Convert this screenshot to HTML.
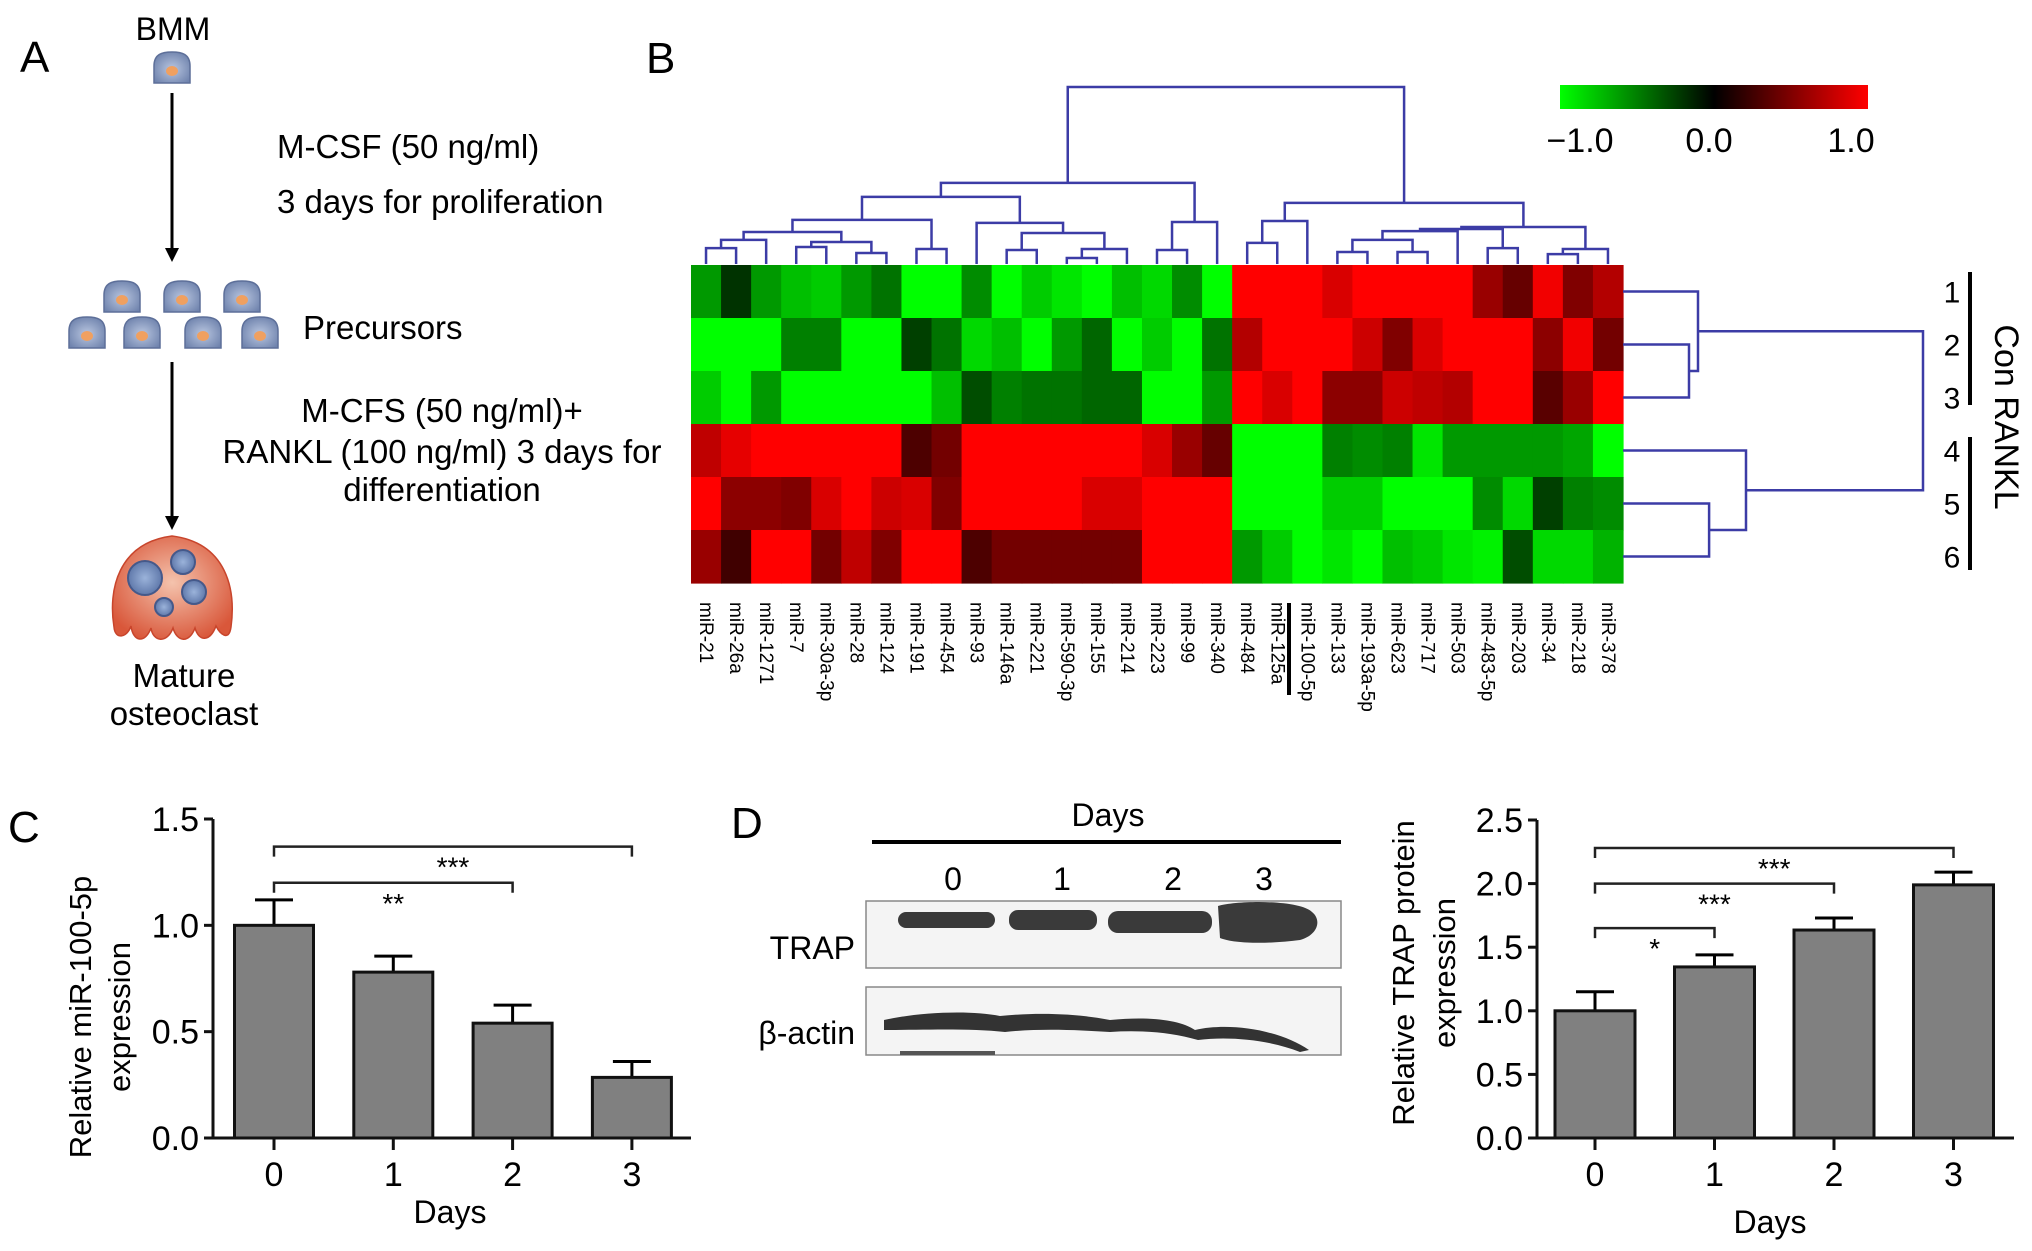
<!DOCTYPE html>
<html><head><meta charset="utf-8"><style>
html,body{margin:0;padding:0;background:#fff;}
svg{display:block;font-family:"Liberation Sans",Arial,sans-serif;}
</style></head><body>
<svg id="fig" width="2032" height="1251" viewBox="0 0 2032 1251" xmlns="http://www.w3.org/2000/svg">
<defs>
<radialGradient id="cellG" cx="50%" cy="55%" r="60%"><stop offset="0" stop-color="#b9c6e0"/><stop offset="1" stop-color="#6f83ad"/></radialGradient>
<radialGradient id="ostG" cx="50%" cy="45%" r="60%"><stop offset="0" stop-color="#f4c3ad"/><stop offset="1" stop-color="#d9573a"/></radialGradient>
<radialGradient id="nucG" cx="50%" cy="50%" r="55%"><stop offset="0" stop-color="#9bb3da"/><stop offset="1" stop-color="#5a73a6"/></radialGradient>
<linearGradient id="cbar" x1="0" x2="1" y1="0" y2="0"><stop offset="0" stop-color="#00ff00"/><stop offset="0.5" stop-color="#000"/><stop offset="1" stop-color="#ff0000"/></linearGradient>
</defs>

<!-- Panel A -->
<g>
<text x="20" y="72" font-size="44">A</text>
<text x="173" y="40" font-size="32" text-anchor="middle">BMM</text>
<g id="cells"></g>
<line x1="172" y1="93" x2="172" y2="250" stroke="#000" stroke-width="3"/>
<polygon points="165,248 179,248 172,262" fill="#000"/>
<text x="277" y="158" font-size="33">M-CSF (50 ng/ml)</text>
<text x="277" y="213" font-size="33">3 days for proliferation</text>
<text x="303" y="339" font-size="33">Precursors</text>
<line x1="172" y1="362" x2="172" y2="518" stroke="#000" stroke-width="3"/>
<polygon points="165,516 179,516 172,530" fill="#000"/>
<text x="442" y="422" font-size="33" text-anchor="middle">M-CFS (50 ng/ml)+</text>
<text x="442" y="463" font-size="33" text-anchor="middle">RANKL (100 ng/ml) 3 days for</text>
<text x="442" y="501" font-size="33" text-anchor="middle">differentiation</text>
<g>
<path d="M114,627 C108,590 118,543 172,536 C227,543 236,590 231,627 C229,642 220,634 216,626 C210,642 199,642 195,628 C189,644 177,642 173,628 C167,644 153,642 151,628 C145,644 133,642 131,626 C127,638 115,640 114,627 Z" fill="url(#ostG)" stroke="#c8452c" stroke-width="1.5"/>
<circle cx="145" cy="578" r="17" fill="url(#nucG)" stroke="#45598a" stroke-width="2"/>
<circle cx="183" cy="562" r="12" fill="url(#nucG)" stroke="#45598a" stroke-width="2"/>
<circle cx="194" cy="592" r="12" fill="url(#nucG)" stroke="#45598a" stroke-width="2"/>
<circle cx="164" cy="607" r="9" fill="url(#nucG)" stroke="#45598a" stroke-width="2"/>
</g>
<text x="184" y="687" font-size="33" text-anchor="middle">Mature</text>
<text x="184" y="725" font-size="33" text-anchor="middle">osteoclast</text>
</g>

<!-- Panel B -->
<g>
<text x="646" y="73" font-size="44">B</text>
<rect x="1560" y="85" width="308" height="24" fill="url(#cbar)"/>
<text x="1580" y="152" font-size="34" text-anchor="middle">−1.0</text>
<text x="1709" y="152" font-size="34" text-anchor="middle">0.0</text>
<text x="1851" y="152" font-size="34" text-anchor="middle">1.0</text>
<g id="heat"></g>
<g id="coldendro"></g>
<g id="rowdendro"></g>
<g id="collabels"></g>
<g id="rowlabels"></g>
<line x1="1289" y1="603" x2="1289" y2="695" stroke="#000" stroke-width="4"/>
<line x1="1970" y1="272" x2="1970" y2="405" stroke="#000" stroke-width="4"/>
<line x1="1970" y1="437" x2="1970" y2="570" stroke="#000" stroke-width="4"/>
<text transform="translate(1995,417) rotate(90)" font-size="34" text-anchor="middle">Con RANKL</text>
</g>

<!-- Panel C -->
<g>
<text x="8" y="842" font-size="44">C</text>
<g id="chartC"></g>
<text transform="translate(91,1017) rotate(-90)" font-size="31" text-anchor="middle">Relative miR-100-5p</text>
<text transform="translate(130,1017) rotate(-90)" font-size="31" text-anchor="middle">expression</text>
<text x="450" y="1223" font-size="32" text-anchor="middle">Days</text>
</g>

<!-- Panel D blot -->
<g>
<text x="731" y="838" font-size="44">D</text>
<text x="1108" y="826" font-size="32" text-anchor="middle">Days</text>
<line x1="872" y1="842" x2="1341" y2="842" stroke="#000" stroke-width="4"/>
<text x="953" y="890" font-size="32" text-anchor="middle">0</text>
<text x="1062" y="890" font-size="32" text-anchor="middle">1</text>
<text x="1173" y="890" font-size="32" text-anchor="middle">2</text>
<text x="1264" y="890" font-size="32" text-anchor="middle">3</text>
<text x="855" y="959" font-size="32" text-anchor="end">TRAP</text>
<text x="855" y="1044" font-size="32" text-anchor="end">β-actin</text>
<rect x="866" y="901" width="475" height="67" fill="#f4f4f4" stroke="#888" stroke-width="1.5"/>
<rect x="866" y="987" width="475" height="68" fill="#f4f4f4" stroke="#888" stroke-width="1.5"/>
<g fill="#3a3a3a">
<rect x="898" y="912" width="97" height="16" rx="8"/>
<rect x="1009" y="910" width="88" height="20" rx="9"/>
<rect x="1108" y="911" width="104" height="22" rx="10"/>
<path d="M1218,906 C1240,900 1300,900 1312,912 C1322,920 1318,935 1300,940 C1270,944 1235,944 1220,938 Z"/>
</g>
<path d="M884,1020 C920,1012 970,1010 1000,1016 C1040,1012 1080,1014 1110,1020 C1150,1016 1180,1020 1195,1030 C1230,1022 1280,1030 1309,1050 L1300,1052 C1270,1040 1230,1036 1198,1040 C1170,1032 1140,1030 1110,1032 C1080,1030 1040,1028 1005,1032 C970,1028 920,1030 884,1030 Z" fill="#333"/>
<rect x="900" y="1051" width="95" height="4" fill="#555"/>
</g>

<!-- Panel D chart -->
<g>
<g id="chartD"></g>
<text transform="translate(1414,973) rotate(-90)" font-size="31" text-anchor="middle">Relative TRAP protein</text>
<text transform="translate(1455,973) rotate(-90)" font-size="31" text-anchor="middle">expression</text>
<text x="1770" y="1233" font-size="32" text-anchor="middle">Days</text>
</g>
</svg>

<script>
const NS = "http://www.w3.org/2000/svg";
// ---------- Heatmap data ----------
const mirNames = ["miR-21","miR-26a","miR-1271","miR-7","miR-30a-3p","miR-28","miR-124","miR-191","miR-454","miR-93","miR-146a","miR-221","miR-590-3p","miR-155","miR-214","miR-223","miR-99","miR-340","miR-484","miR-125a","miR-100-5p","miR-133","miR-193a-5p","miR-623","miR-717","miR-503","miR-483-5p","miR-203","miR-34","miR-218","miR-378"];
const sampleLabels = ["1","2","3","4","5","6"];
const row1 = [-0.6,-0.2,-0.6,-0.75,-0.8,-0.6,-0.45,-1,-1,-0.55,-1,-0.8,-0.9,-1,-0.75,-0.85,-0.55,-1, 1,1,1,0.85,1,1,1,1,0.6,0.4,0.95,0.5,0.7];
const row2 = [-1,-1,-1,-0.5,-0.5,-1,-1,-0.25,-0.45,-0.85,-0.75,-1,-0.6,-0.4,-1,-0.8,-1,-0.45, 0.7,1,1,1,0.8,0.5,0.85,1,1,1,0.55,0.95,0.45];
const row3 = [-0.8,-1,-0.6,-1,-1,-1,-1,-1,-0.75,-0.3,-0.5,-0.45,-0.45,-0.4,-0.4,-1,-1,-0.6, 1,0.85,1,0.55,0.55,0.8,0.75,0.7,1,1,0.35,0.6,1];
const row4 = [0.75,0.9,1,1,1,1,1,0.3,0.45,1,1,1,1,1,1,0.85,0.6,0.4, -1,-1,-1,-0.5,-0.55,-0.5,-0.9,-0.6,-0.6,-0.6,-0.6,-0.65,-1];
const row5 = [1,0.55,0.55,0.5,0.85,1,0.8,0.85,0.5,1,1,1,1,0.85,0.85,1,1,1, -1,-1,-1,-0.8,-0.8,-1,-1,-1,-0.55,-0.85,-0.25,-0.5,-0.55];
const row6 = [0.6,0.25,1,1,0.45,0.75,0.5,1,1,0.3,0.45,0.45,0.45,0.45,0.45,1,1,1, -0.6,-0.8,-1,-0.9,-1,-0.75,-0.8,-0.9,-0.95,-0.3,-0.85,-0.85,-0.7];
const heatRows = [row1,row2,row3,row4,row5,row6];
// column dendrogram merges: [childA, childB, dissimilarity]; new node ids start at 31
const colMerges = [[0,1,.090],[31,2,.136],[3,4,.096],[5,6,.062],[33,34,.124],[32,35,.181],[7,8,.085],[36,37,.249],[10,11,.079],[12,13,.034],[40,14,.085],[39,41,.175],[9,42,.232],[38,43,.379],[15,16,.079],[45,17,.237],[44,46,.458],[18,19,.119],[48,20,.243],[21,22,.068],[23,24,.068],[50,51,.136],[52,25,.186],[26,27,.090],[53,54,.198],[28,29,.056],[56,30,.085],[55,57,.209],[49,58,.345],[47,59,1.0]];
// row dendrogram merges; new node ids start at 6
const rowMerges = [[1,2,.22],[0,6,.25],[4,5,.287],[3,8,.41],[7,9,1.0]];

const HX0=691, HX1=1623, HY0=265, HY1=583;
const nC = mirNames.length, nR = heatRows.length;
const cw=(HX1-HX0)/nC, rh=(HY1-HY0)/nR;
const colX = i => HX0 + cw*(i+0.5);
const rowY = j => HY0 + rh*(j+0.5);
function colorOf(v){ v=Math.max(-1,Math.min(1,v)); return v<0 ? `rgb(0,${Math.round(-v*255)},0)` : `rgb(${Math.round(v*255)},0,0)`; }

const heat = document.getElementById('heat');
heatRows.forEach((row,j)=>row.forEach((v,i)=>{
  const r=document.createElementNS(NS,'rect');
  r.setAttribute('x',HX0+cw*i); r.setAttribute('y',HY0+rh*j);
  r.setAttribute('width',cw+0.6); r.setAttribute('height',rh+0.6);
  r.setAttribute('fill',colorOf(v));
  
  
  heat.appendChild(r);
}));

function dendro(merges, nLeaves, leafPos, base, span, horizontal, g){
  const pos=[], lvl=[];
  for(let i=0;i<nLeaves;i++){pos.push(leafPos(i)); lvl.push(0);}
  const toC = d => horizontal ? base + d*span : base - d*span;
  let dstr='';
  merges.forEach(([a,b,d])=>{
    const ca=toC(lvl[a]), cb=toC(lvl[b]), cm=toC(d);
    if(!horizontal){
      dstr+=`M${pos[a]},${ca}V${cm}H${pos[b]}V${cb}`;
    } else {
      dstr+=`M${ca},${pos[a]}H${cm}V${pos[b]}H${cb}`;
    }
    pos.push((pos[a]+pos[b])/2); lvl.push(d);
  });
  const p=document.createElementNS(NS,'path');
  p.setAttribute('d',dstr); p.setAttribute('fill','none');
  p.setAttribute('stroke','#3c3ca6'); p.setAttribute('stroke-width','2.5');
  
  
  g.appendChild(p);
}
dendro(colMerges,nC,colX,264,177,false,document.getElementById('coldendro'));
dendro(rowMerges,nR,rowY,1623,300,true,document.getElementById('rowdendro'));

const cl=document.getElementById('collabels');
mirNames.forEach((n,i)=>{
  const t=document.createElementNS(NS,'text');
  t.setAttribute('transform',`translate(${colX(i)-6},602) rotate(90)`);
  t.setAttribute('font-size','19'); t.textContent=n;
  
  
  cl.appendChild(t);
});
const rl=document.getElementById('rowlabels');
sampleLabels.forEach((n,j)=>{
  const t=document.createElementNS(NS,'text');
  t.setAttribute('x',1952); t.setAttribute('y',rowY(j)+11);
  t.setAttribute('font-size','30'); t.setAttribute('text-anchor','middle'); t.textContent=n;
  
  
  rl.appendChild(t);
});

// ---------- cells in panel A ----------
const cellCenters=[[172,68],[122,297],[182,297],[242,297],[87,333],[142,333],[203,333],[260,333]];
const cg=document.getElementById('cells');
cellCenters.forEach(([x,y])=>{
  const p=document.createElementNS(NS,'path');
  p.setAttribute('d',`M${x-18},${y+15} V${y-2} C${x-18},${y-14} ${x-10},${y-16} ${x},${y-16} C${x+10},${y-16} ${x+18},${y-14} ${x+18},${y-2} V${y+15} Z`);
  p.setAttribute('fill','url(#cellG)'); p.setAttribute('stroke','#5d6f99'); p.setAttribute('stroke-width','1.5');
  
  
  cg.appendChild(p);
  const e=document.createElementNS(NS,'ellipse');
  e.setAttribute('cx',x); e.setAttribute('cy',y+3); e.setAttribute('rx',6); e.setAttribute('ry',5);
  e.setAttribute('fill','#f0a060');
  
  
  cg.appendChild(e);
});

// ---------- Bar charts ----------
const daysC = ["0","1","2","3"];
const meanC = [1.0,0.78,0.54,0.285];
const errC  = [0.12,0.075,0.085,0.075];
const ticksC = [0,0.5,1.0,1.5];
const tickLabC = ["0.0","0.5","1.0","1.5"];
const sigC = [[0,3,"***",1.37],[0,2,"**",1.2]];

const daysD = ["0","1","2","3"];
const meanD = [1.0,1.345,1.635,1.99];
const errD  = [0.15,0.095,0.095,0.1];
const ticksD = [0,0.5,1.0,1.5,2.0,2.5];
const tickLabD = ["0.0","0.5","1.0","1.5","2.0","2.5"];
const sigD = [[0,3,"***",2.28],[0,2,"***",2.0],[0,1,"*",1.65]];

function barChart(g, cfg, cats, means, errs, ticks, tickLabs, sigs){
  const y = v => cfg.y0 - (v/cfg.max)*(cfg.y0-cfg.y1);
  const x = i => cfg.xs + i*cfg.step;
  const add=(tag,attrs,name)=>{const e=document.createElementNS(NS,tag);for(const k in attrs)e.setAttribute(k,attrs[k]);g.appendChild(e);return e;};
  means.forEach((m,i)=>{
    const cx=x(i);
    add('line',{x1:cx,y1:y(m),x2:cx,y2:y(m+errs[i]),stroke:'#000','stroke-width':3},'error-bar');
    add('line',{x1:cx-19,y1:y(m+errs[i]),x2:cx+19,y2:y(m+errs[i]),stroke:'#000','stroke-width':3},'error-cap');
    add('rect',{x:cx-cfg.bw/2,y:y(m),width:cfg.bw,height:cfg.y0-y(m),fill:'#808080',stroke:'#111','stroke-width':3},'bar-day-'+cats[i]);
  });
  add('line',{x1:cfg.ax,y1:cfg.y1,x2:cfg.ax,y2:cfg.y0,stroke:'#111','stroke-width':3},'y-axis');
  add('line',{x1:cfg.ax,y1:cfg.y0,x2:cfg.axEnd,y2:cfg.y0,stroke:'#111','stroke-width':3},'x-axis');
  ticks.forEach((t,k)=>{
    add('line',{x1:cfg.ax-9,y1:y(t),x2:cfg.ax,y2:y(t),stroke:'#111','stroke-width':3},'y-tick');
    const tx=add('text',{x:cfg.ax-14,y:y(t)+12,'font-size':34,'text-anchor':'end'},'y-tick-label'); tx.textContent=tickLabs[k];
  });
  cats.forEach((c,i)=>{
    add('line',{x1:x(i),y1:cfg.y0,x2:x(i),y2:cfg.y0+12,stroke:'#111','stroke-width':3},'x-tick');
    const tx=add('text',{x:x(i),y:cfg.y0+48,'font-size':34,'text-anchor':'middle'},'x-tick-label'); tx.textContent=c;
  });
  sigs.forEach(([a,b,s,lv])=>{
    const yy=y(lv);
    add('path',{d:`M${x(a)},${yy+10}V${yy}H${x(b)}V${yy+10}`,fill:'none',stroke:'#222','stroke-width':2.5},'significance-bracket');
    const tx=add('text',{x:(x(a)+x(b))/2,y:yy+30,'font-size':28,'text-anchor':'middle'},'significance-stars'); tx.textContent=s;
  });
}
barChart(document.getElementById('chartC'),{y0:1138,y1:819,max:1.5,xs:274,step:119.3,bw:79,ax:213,axEnd:691},daysC,meanC,errC,ticksC,tickLabC,sigC);
barChart(document.getElementById('chartD'),{y0:1138,y1:820,max:2.5,xs:1595,step:119.5,bw:80,ax:1537,axEnd:2014},daysD,meanD,errD,ticksD,tickLabD,sigD);
</script>
</body></html>
